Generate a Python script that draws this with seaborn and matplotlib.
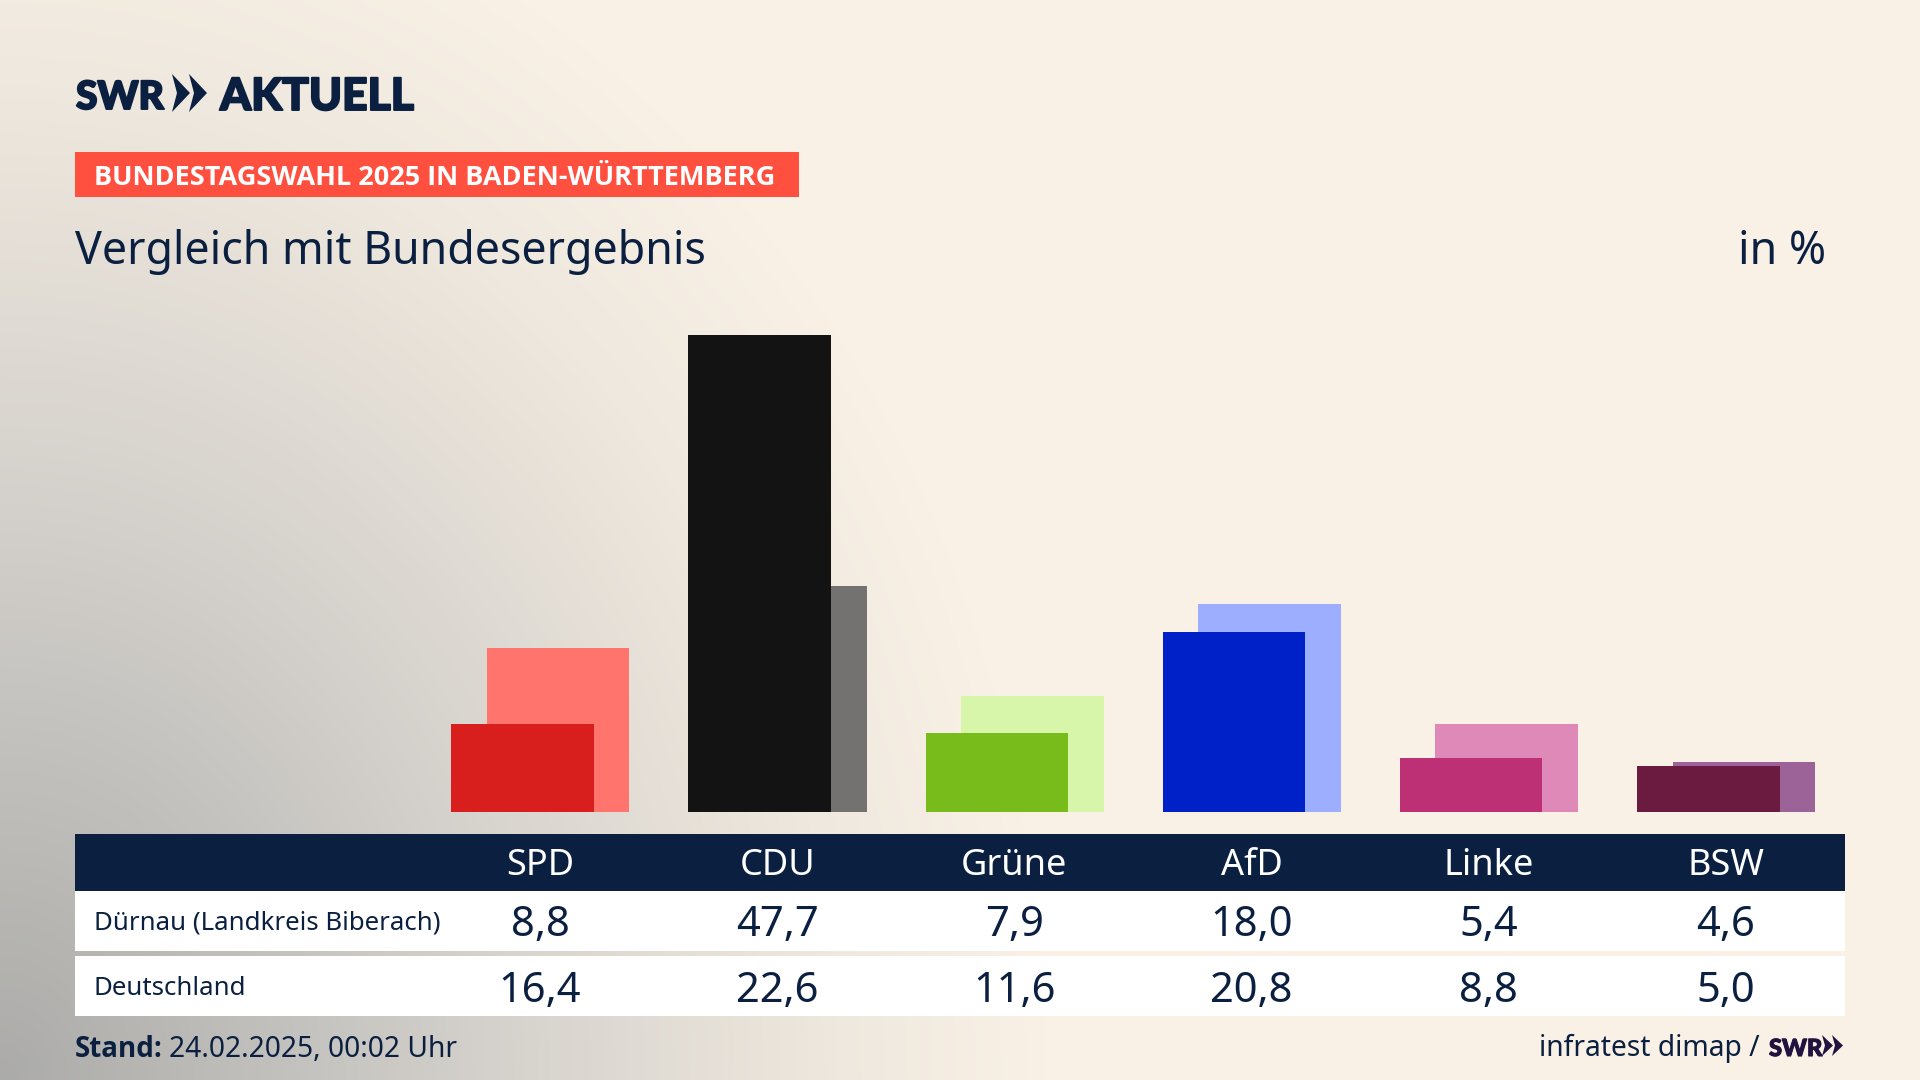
import numpy as np
import pandas as pd
import matplotlib.pyplot as plt
import matplotlib.patheffects as pe
from matplotlib.colors import LinearSegmentedColormap
from matplotlib.patches import Rectangle, Polygon
from matplotlib.transforms import blended_transform_factory
import seaborn as sns

parties = ["SPD", "CDU", "Grüne", "AfD", "Linke", "BSW"]
duernau = [8.8, 47.7, 7.9, 18.0, 5.4, 4.6]
deutschland = [16.4, 22.6, 11.6, 20.8, 8.8, 5.0]
dark_colors = ["#D81F1E", "#131313", "#78BC1B", "#0020C8", "#BD3075", "#6B1A40"]
light_colors = ["#FF746C", "#737271", "#D7F6A9", "#9DAEFF", "#DF89B8", "#9C6398"]

NAVY = "#0B2040"
FONT = "Noto Sans"
BOLD = "Open Sans"
LOGO = "Lato"
W, H = 1920, 1080

sns.set_theme(style="white")
plt.rcParams["font.family"] = [FONT, "DejaVu Sans"]

df = pd.DataFrame({"party": parties, "pos": range(len(parties)),
                   "duernau": duernau, "deutschland": deutschland})

fig = plt.figure(figsize=(19.2, 10.8), dpi=100)

# background + table boxes, in pixels
bg = fig.add_axes([0, 0, 1, 1])
bg.axis("off")

yy, xx = np.mgrid[0:H:270j, 0:W:480j]
dist = np.sqrt((xx / 1050) ** 2 + ((H - yy) / 1250) ** 2)
shade = np.clip(1 - dist, 0, 1)
cmap = LinearSegmentedColormap.from_list(
    "bg", [(0, "#F9F1E6"), (0.2, "#EFE8DE"), (0.4, "#DFDAD3"), (0.55, "#D3D0CB"), (1, "#ABABA9")])
bg.imshow(shade, extent=(0, W, H, 0), cmap=cmap, vmin=0, vmax=1, aspect="auto", interpolation="bilinear")
bg.set_xlim(0, W)
bg.set_ylim(H, 0)

bg.add_patch(Rectangle((75, 152), 724, 45, color="#FF4F3F", lw=0))
bg.add_patch(Rectangle((75, 834), 1770, 57, color=NAVY, lw=0))
bg.add_patch(Rectangle((75, 891), 1770, 60, color="white", lw=0))
bg.add_patch(Rectangle((75, 956), 1770, 60, color="white", lw=0))


def chevrons(x, top, bottom, w, t, gap, color):
    mid = (top + bottom) / 2
    for i in range(2):
        x0 = x + i * gap
        bg.add_patch(Polygon([(x0, top), (x0 + w, mid), (x0, bottom), (x0 + w - t, mid)],
                             closed=True, color=color, lw=0))


# header
heavy = [pe.withStroke(linewidth=1.4, foreground=NAVY)]
bg.text(76, 109, "SWR", family=LOGO, weight="black", fontsize=28, color=NAVY, va="baseline", path_effects=heavy)
chevrons(172, 74, 112, 18, 13, 17, NAVY)
bg.text(220, 110, "AKTUELL", family=LOGO, weight="black", fontsize=32, color=NAVY, va="baseline", path_effects=heavy)
bg.text(94, 185, "BUNDESTAGSWAHL 2025 IN BADEN-WÜRTTEMBERG", family=BOLD, weight="bold", fontsize=19.5,
        color="white", va="baseline")
bg.text(75, 264, "Vergleich mit Bundesergebnis", fontsize=32.2, color=NAVY, va="baseline")
bg.text(1826, 264, "in %", fontsize=32.2, color=NAVY, va="baseline", ha="right")

# bars: 10 px per percentage point above the table
ax = fig.add_axes([75 / W, 1 - 812 / H, 1770 / W, 512 / H])
ax.patch.set_alpha(0)
sns.barplot(data=df.assign(pos=df["pos"] + 0.076), x="pos", y="deutschland", hue="party",
            palette=dict(zip(parties, light_colors)), native_scale=True, dodge=False,
            width=0.602, legend=False, saturation=1, linewidth=0, edgecolor="none", ax=ax)
sns.barplot(data=df.assign(pos=df["pos"] - 0.074), x="pos", y="duernau", hue="party",
            palette=dict(zip(parties, dark_colors)), native_scale=True, dodge=False,
            width=0.6, legend=False, saturation=1, linewidth=0, edgecolor="none", ax=ax)
ax.set_xlim((75 - 540) / 237.2, (1845 - 540) / 237.2)
ax.set_ylim(0, 51.2)
ax.axis("off")

# table text: x from the bar axis, y in pixels
trans = blended_transform_factory(ax.transData, bg.transData)
for i, party in enumerate(parties):
    ax.text(i, 875, party, transform=trans, ha="center", va="baseline", fontsize=26,
            color="white", clip_on=False)
    ax.text(i, 936, f"{duernau[i]:.1f}".replace(".", ","), transform=trans, ha="center",
            va="baseline", fontsize=30, color=NAVY, clip_on=False)
    ax.text(i, 1002, f"{deutschland[i]:.1f}".replace(".", ","), transform=trans, ha="center",
            va="baseline", fontsize=30, color=NAVY, clip_on=False)

bg.text(94, 930, "Dürnau (Landkreis Biberach)", fontsize=18.6, color=NAVY, va="baseline")
bg.text(94, 995, "Deutschland", fontsize=18.6, color=NAVY, va="baseline")

# footer
bg.text(75, 1057, "Stand:", family=BOLD, weight="bold", fontsize=20, color=NAVY, va="baseline")
bg.text(169, 1057, "24.02.2025, 00:02 Uhr", fontsize=20.3, color=NAVY, va="baseline")
bg.text(1760, 1056, "infratest dimap /", fontsize=20.3, color=NAVY, va="baseline", ha="right")
bg.text(1769, 1056, "SWR", family=LOGO, weight="black", fontsize=17, color="#22123F", va="baseline",
        path_effects=[pe.withStroke(linewidth=0.8, foreground="#22123F")])
chevrons(1822, 1035, 1056, 11, 8, 10, "#22123F")

fig.savefig("out.png", dpi=100)
plt.close()
